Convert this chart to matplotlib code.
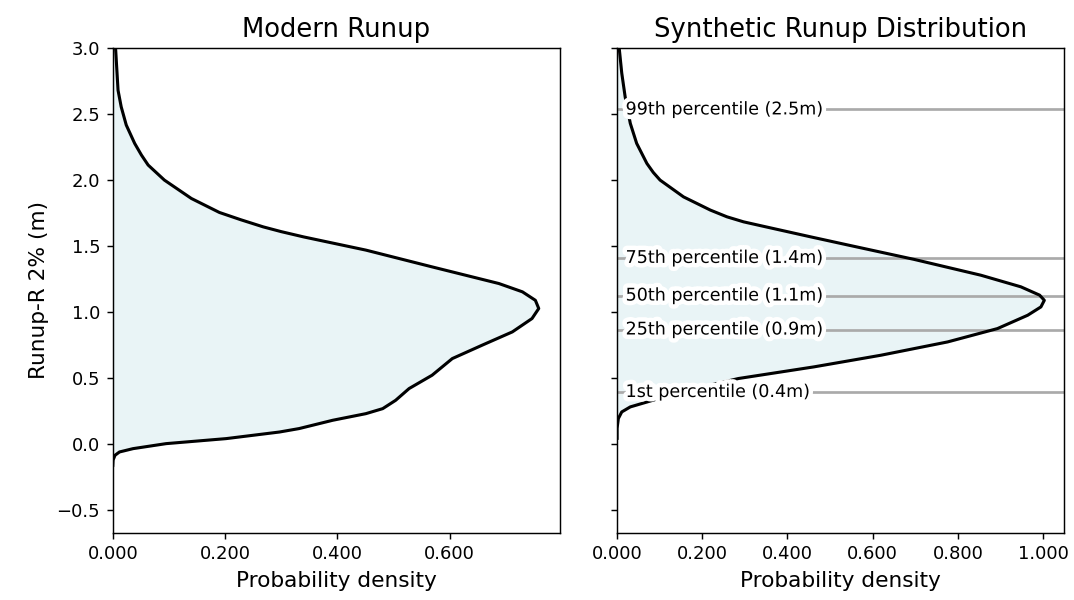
import matplotlib
matplotlib.use('Agg')
import matplotlib.pyplot as plt
import matplotlib.patheffects as pe
from matplotlib.ticker import FormatStrFormatter

# modern runup density
y_modern = [3.05, 2.998, 2.68, 2.555, 2.417, 2.278, 2.19, 2.114, 2.0, 1.861, 1.755, 1.70,
            1.646, 1.61, 1.57, 1.47, 1.343, 1.217, 1.154, 1.09, 1.028, 0.952, 0.851, 0.75,
            0.649, 0.586, 0.523, 0.422, 0.333, 0.27, 0.232, 0.182, 0.119, 0.093, 0.043, 0.005,
            -0.033, -0.058, -0.083, -0.12, -0.16]
d_modern = [0.004, 0.005, 0.0094, 0.015, 0.024, 0.039, 0.051, 0.063, 0.092, 0.14, 0.19, 0.228,
            0.268, 0.30, 0.34, 0.451, 0.569, 0.688, 0.73, 0.753, 0.759, 0.747, 0.712, 0.658,
            0.605, 0.587, 0.569, 0.528, 0.504, 0.481, 0.451, 0.392, 0.332, 0.297, 0.202, 0.095,
            0.036, 0.012, 0.004, 0.0005, 0.0]

# synthetic runup density
y_synth = [3.05, 3.0, 2.81, 2.63, 2.43, 2.278, 2.126, 2.058, 2.0, 1.873, 1.773, 1.722, 1.684,
           1.655, 1.624, 1.57, 1.51, 1.40, 1.28, 1.192, 1.129, 1.09, 1.04, 0.977, 0.876, 0.775,
           0.674, 0.586, 0.498, 0.40, 0.32, 0.283, 0.245, 0.195, 0.12, 0.045]
d_synth = [0.004, 0.005, 0.011, 0.019, 0.031, 0.046, 0.07, 0.085, 0.101, 0.156, 0.219, 0.258,
           0.297, 0.337, 0.38, 0.455, 0.54, 0.697, 0.854, 0.948, 0.992, 1.003, 0.995, 0.964,
           0.893, 0.776, 0.619, 0.462, 0.285, 0.155, 0.07, 0.031, 0.011, 0.003, 0.0, 0.0]

pct_values = [0.396, 0.869, 1.126, 1.411, 2.535]
pct_labels = ['1st percentile (0.4m)', '25th percentile (0.9m)', '50th percentile (1.1m)',
              '75th percentile (1.4m)', '99th percentile (2.5m)']

fill_color = '#e9f4f6'

fig, (ax1, ax2) = plt.subplots(1, 2, sharey=True, figsize=(1074 / 130, 600 / 130), dpi=130)
fig.subplots_adjust(left=0.105, right=0.991, top=0.92, bottom=0.112, wspace=0.1275)

ax1.fill_betweenx(y_modern, 0, d_modern, color=fill_color, zorder=1)
ax1.plot(d_modern, y_modern, color='black', lw=1.7, zorder=3)
ax1.set_title('Modern Runup', fontsize=14.3)
ax1.set_xlabel('Probability density', fontsize=12)
ax1.set_ylabel('Runup-R 2% (m)', fontsize=12)
ax1.set_xlim(0, max(d_modern) * 1.05)
ax1.set_xticks([0, 0.2, 0.4, 0.6])

ax2.fill_betweenx(y_synth, 0, d_synth, color=fill_color, zorder=1)
ax2.plot(d_synth, y_synth, color='black', lw=1.7, zorder=3)
for v, lab in zip(pct_values, pct_labels):
    ax2.axhline(v, color='#aaaaaa', lw=1.5, zorder=2)
    ax2.text(0.02, v, lab, fontsize=9.7, ha='left', va='center', zorder=4,
             path_effects=[pe.withStroke(linewidth=5, foreground='white')])
ax2.set_title('Synthetic Runup Distribution', fontsize=14.3)
ax2.set_xlabel('Probability density', fontsize=12)
ax2.set_xlim(0, 1.05)
ax2.set_xticks([0, 0.2, 0.4, 0.6, 0.8, 1.0])

for ax in (ax1, ax2):
    ax.xaxis.set_major_formatter(FormatStrFormatter('%.3f'))
    ax.tick_params(labelsize=10)
ax1.set_ylim(-0.67, 3.0)
ax1.set_yticks([-0.5, 0, 0.5, 1.0, 1.5, 2.0, 2.5, 3.0])

plt.savefig('out.png', dpi=130)
